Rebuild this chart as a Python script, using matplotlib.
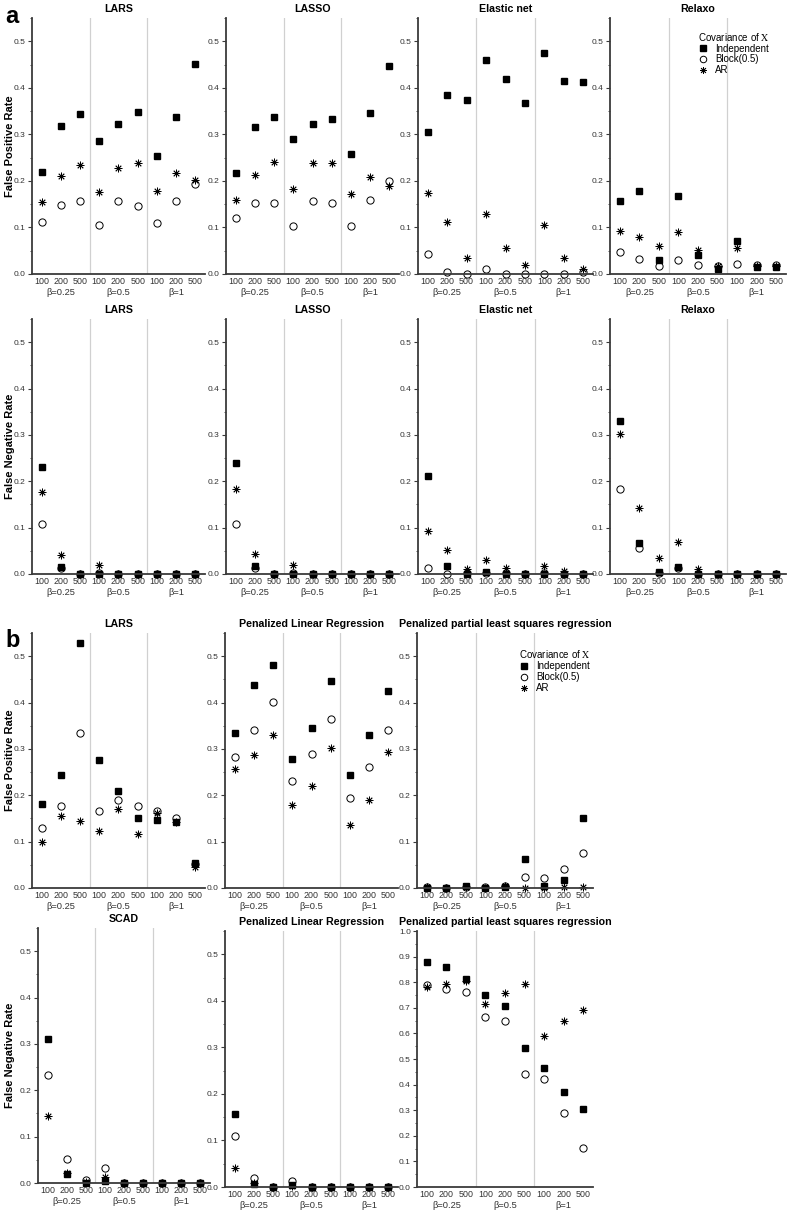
import numpy as np
import matplotlib
matplotlib.use('Agg')
from matplotlib import pyplot as plt
from matplotlib.ticker import MultipleLocator

plt.rcParams['font.family'] = ['Liberation Sans', 'DejaVu Sans']
plt.rcParams['mathtext.fontset'] = 'stix'

# x categories: sample size within each beta group
sizes = ['100', '200', '500']
betas = ['β=0.25', 'β=0.5', 'β=1']
cov_names = ['Independent', 'Block(0.5)', 'AR']

# ---- panel a, false positive rate ----
lars_fpr_ind = [0.220, 0.319, 0.344, 0.285, 0.322, 0.348, 0.254, 0.337, 0.451]
lars_fpr_blk = [0.111, 0.148, 0.157, 0.106, 0.156, 0.147, 0.110, 0.157, 0.194]
lars_fpr_ar = [0.154, 0.210, 0.234, 0.177, 0.228, 0.239, 0.179, 0.218, 0.202]

lasso_fpr_ind = [0.217, 0.315, 0.338, 0.291, 0.322, 0.334, 0.257, 0.345, 0.446]
lasso_fpr_blk = [0.120, 0.153, 0.152, 0.103, 0.157, 0.153, 0.103, 0.159, 0.199]
lasso_fpr_ar = [0.160, 0.212, 0.241, 0.182, 0.238, 0.239, 0.171, 0.208, 0.189]

enet_fpr_ind = [0.306, 0.384, 0.373, 0.460, 0.420, 0.367, 0.474, 0.415, 0.413]
enet_fpr_blk = [0.044, 0.004, 0.001, 0.011, 0.001, 0.001, 0.001, 0.001, 0.004]
enet_fpr_ar = [0.175, 0.111, 0.035, 0.129, 0.056, 0.019, 0.106, 0.034, 0.011]

relaxo_fpr_ind = [0.156, 0.179, 0.030, 0.167, 0.040, 0.010, 0.071, 0.014, 0.014]
relaxo_fpr_blk = [0.047, 0.033, 0.018, 0.031, 0.019, 0.018, 0.022, 0.019, 0.019]
relaxo_fpr_ar = [0.093, 0.080, 0.060, 0.091, 0.052, 0.017, 0.055, 0.018, 0.018]

# ---- panel a, false negative rate ----
lars_fnr_ind = [0.231, 0.016, 0.001, 0.001, 0.0, 0.0, 0.0, 0.0, 0.0]
lars_fnr_blk = [0.108, 0.012, 0.0, 0.002, 0.0, 0.0, 0.0, 0.0, 0.0]
lars_fnr_ar = [0.177, 0.042, 0.001, 0.019, 0.0, 0.0, 0.0, 0.0, 0.0]

lasso_fnr_ind = [0.240, 0.017, 0.001, 0.001, 0.0, 0.0, 0.0, 0.0, 0.0]
lasso_fnr_blk = [0.107, 0.014, 0.0, 0.003, 0.0, 0.0, 0.0, 0.0, 0.0]
lasso_fnr_ar = [0.184, 0.044, 0.001, 0.020, 0.0, 0.0, 0.0, 0.0, 0.0]

enet_fnr_ind = [0.211, 0.017, 0.001, 0.004, 0.001, 0.0, 0.001, 0.001, 0.0]
enet_fnr_blk = [0.014, 0.001, 0.002, 0.002, 0.003, 0.0, 0.002, 0.001, 0.0]
enet_fnr_ar = [0.093, 0.052, 0.011, 0.031, 0.014, 0.001, 0.017, 0.006, 0.001]

relaxo_fnr_ind = [0.330, 0.067, 0.004, 0.016, 0.001, 0.0, 0.0, 0.0, 0.0]
relaxo_fnr_blk = [0.184, 0.057, 0.003, 0.014, 0.001, 0.0, 0.0, 0.0, 0.0]
relaxo_fnr_ar = [0.301, 0.142, 0.034, 0.068, 0.010, 0.001, 0.0, 0.0, 0.0]

# ---- panel b, false positive rate ----
larsb_fpr_ind = [0.182, 0.243, 0.529, 0.276, 0.209, 0.152, 0.147, 0.143, 0.054]
larsb_fpr_blk = [0.129, 0.176, 0.334, 0.167, 0.189, 0.176, 0.166, 0.151, 0.051]
larsb_fpr_ar = [0.099, 0.156, 0.144, 0.123, 0.171, 0.116, 0.161, 0.142, 0.045]

plr_fpr_ind = [0.334, 0.437, 0.481, 0.278, 0.346, 0.446, 0.243, 0.331, 0.425]
plr_fpr_blk = [0.282, 0.341, 0.402, 0.230, 0.290, 0.364, 0.195, 0.260, 0.341]
plr_fpr_ar = [0.256, 0.287, 0.331, 0.179, 0.220, 0.303, 0.136, 0.190, 0.294]

ppls_fpr_ind = [0.001, 0.001, 0.004, 0.001, 0.002, 0.062, 0.004, 0.017, 0.152]
ppls_fpr_blk = [0.002, 0.001, 0.002, 0.002, 0.005, 0.024, 0.022, 0.041, 0.075]
ppls_fpr_ar = [0.002, 0.001, 0.003, 0.001, 0.004, 0.001, 0.001, 0.002, 0.002]

# ---- panel b, false negative rate ----
scad_fnr_ind = [0.310, 0.020, 0.001, 0.005, 0.0, 0.0, 0.0, 0.0, 0.0]
scad_fnr_blk = [0.234, 0.052, 0.007, 0.032, 0.0, 0.0, 0.0, 0.0, 0.0]
scad_fnr_ar = [0.145, 0.021, 0.002, 0.014, 0.0, 0.0, 0.0, 0.0, 0.0]

plr_fnr_ind = [0.157, 0.007, 0.001, 0.004, 0.0, 0.0, 0.0, 0.0, 0.0]
plr_fnr_blk = [0.109, 0.020, 0.001, 0.013, 0.0, 0.0, 0.0, 0.0, 0.0]
plr_fnr_ar = [0.041, 0.009, 0.001, 0.003, 0.0, 0.0, 0.0, 0.0, 0.0]

ppls_fnr_ind = [0.877, 0.861, 0.813, 0.749, 0.708, 0.544, 0.463, 0.371, 0.306]
ppls_fnr_blk = [0.790, 0.774, 0.763, 0.665, 0.650, 0.443, 0.422, 0.288, 0.153]
ppls_fnr_ar = [0.783, 0.792, 0.803, 0.714, 0.759, 0.793, 0.588, 0.650, 0.693]

W, H = 788, 1210
fig = plt.figure(figsize=(W / 100, H / 100), dpi=100)

SPINE = '#3a3a3a'
TXT = '#333333'


def panel(left, top, right, bottom, title, ind, blk, ar, ymax=0.55, ylabel=None, legend=None):
    ax = fig.add_axes([left / W, 1 - bottom / H, (right - left) / W, (bottom - top) / H])
    x = np.arange(9) + 0.5
    ax.axvline(3, color='#d0d0d0', lw=0.9, zorder=0)
    ax.axvline(6, color='#d0d0d0', lw=0.9, zorder=0)
    ax.plot(x, ind, ls='none', marker='s', ms=5, color='black', clip_on=False, label=cov_names[0])
    ax.plot(x, blk, ls='none', marker='o', ms=5.2, mfc='none', mec='black', mew=0.7,
            clip_on=False, label=cov_names[1])
    ax.plot(x, ar, ls='none', marker=(8, 2, 0), ms=5.5, color='black', mew=0.6,
            clip_on=False, label=cov_names[2])
    ax.set_xlim(0, 9)
    ax.set_ylim(0, ymax)
    ax.yaxis.set_minor_locator(MultipleLocator(0.05))
    yt = np.arange(0, ymax + 0.001, 0.1)
    ax.set_yticks(yt)
    ax.set_yticklabels(['%.1f' % t for t in yt])
    ax.set_xticks(x)
    ax.set_xticklabels(sizes * 3)
    ax.tick_params(axis='x', length=0, pad=2.5, labelsize=6.4, labelcolor=TXT)
    ax.tick_params(axis='y', which='major', length=3, width=0.8, color=SPINE, pad=1.5,
                   labelsize=6.0, labelcolor=TXT)
    ax.tick_params(axis='y', which='minor', length=1.6, width=0.6, color=SPINE)
    for s in ['top', 'right']:
        ax.spines[s].set_visible(False)
    for s in ['left', 'bottom']:
        ax.spines[s].set_color(SPINE)
        ax.spines[s].set_linewidth(1.3)
    for k, b in enumerate(betas):
        ax.annotate(b, xy=(1.5 + 3 * k, 0), xycoords=('data', 'axes fraction'),
                    xytext=(0, -13.5), textcoords='offset points', ha='center', va='center',
                    fontsize=6.7, color=TXT)
    ax.set_title(title, fontsize=7.7, fontweight='bold', pad=4)
    if ylabel:
        fig.text(10 / W, 1 - (top + bottom) / 2 / H, ylabel, rotation=90, ha='center', va='center',
                 fontsize=8.0, fontweight='bold')
    if legend:
        ax.legend(loc='upper left', bbox_to_anchor=legend, frameon=False,
                  title=r'Covariance of $\mathrm{X}$', title_fontsize=7, fontsize=7,
                  handlelength=1.0, handletextpad=0.8, borderpad=0, labelspacing=0.1,
                  markerscale=0.9)
    return ax


# row 1: panel a, FPR
panel(32, 18, 205, 274, 'LARS', lars_fpr_ind, lars_fpr_blk, lars_fpr_ar, ylabel='False Positive Rate')
panel(226, 18, 399, 274, 'LASSO', lasso_fpr_ind, lasso_fpr_blk, lasso_fpr_ar)
panel(418, 18, 593, 274, 'Elastic net', enet_fpr_ind, enet_fpr_blk, enet_fpr_ar)
panel(610, 18, 786, 274, 'Relaxo', relaxo_fpr_ind, relaxo_fpr_blk, relaxo_fpr_ar, legend=(0.47, 0.97))

# row 2: panel a, FNR
panel(32, 319, 205, 574, 'LARS', lars_fnr_ind, lars_fnr_blk, lars_fnr_ar, ylabel='False Negative Rate')
panel(226, 319, 399, 574, 'LASSO', lasso_fnr_ind, lasso_fnr_blk, lasso_fnr_ar)
panel(418, 319, 593, 574, 'Elastic net', enet_fnr_ind, enet_fnr_blk, enet_fnr_ar)
panel(610, 319, 786, 574, 'Relaxo', relaxo_fnr_ind, relaxo_fnr_blk, relaxo_fnr_ar)

# row 3: panel b, FPR
panel(32, 633, 205, 888, 'LARS', larsb_fpr_ind, larsb_fpr_blk, larsb_fpr_ar, ylabel='False Positive Rate')
panel(225, 633, 398, 888, 'Penalized Linear Regression', plr_fpr_ind, plr_fpr_blk, plr_fpr_ar)
panel(417, 633, 593, 888, 'Penalized partial least squares regression',
      ppls_fpr_ind, ppls_fpr_blk, ppls_fpr_ar, legend=(0.55, 0.96))

# row 4: panel b, FNR
panel(38, 928, 210, 1183, 'SCAD', scad_fnr_ind, scad_fnr_blk, scad_fnr_ar, ylabel='False Negative Rate')
panel(225, 931, 398, 1187, 'Penalized Linear Regression', plr_fnr_ind, plr_fnr_blk, plr_fnr_ar)
panel(417, 931, 593, 1187, 'Penalized partial least squares regression',
      ppls_fnr_ind, ppls_fnr_blk, ppls_fnr_ar, ymax=1.0)

fig.text(5 / W, 1 - 23 / H, 'a', fontsize=17, fontweight='bold', va='baseline')
fig.text(5 / W, 1 - 647 / H, 'b', fontsize=17, fontweight='bold', va='baseline')

plt.savefig('out.png', dpi=100)
